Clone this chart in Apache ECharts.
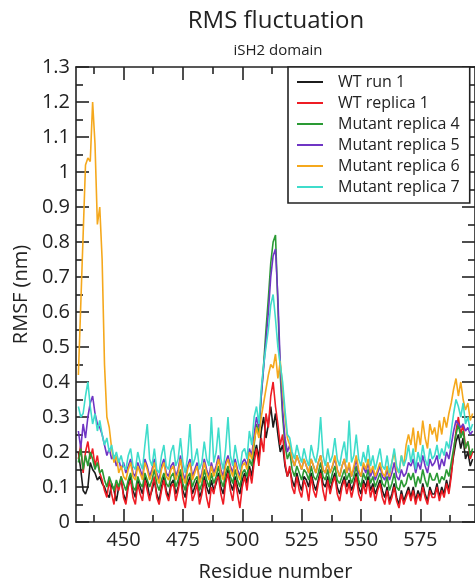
<!DOCTYPE html>
<html>
<head>
<meta charset="utf-8">
<script src="https://cdn.jsdelivr.net/npm/echarts@6/dist/echarts.min.js"></script>
<style>
html,body{margin:0;padding:0;background:#fff;}
#chart{width:475px;height:587px;}
</style>
</head>
<body>
<div id="chart"></div>
<script>
// Residues 431..597 (one value per residue)
const firstResidue = 431;
const lastResidue = 597;

const seriesNames = ["WT run 1", "WT replica 1", "Mutant replica 4", "Mutant replica 5", "Mutant replica 6", "Mutant replica 7"];
const seriesColors = ["#1c1c1c", "#ee1c24", "#2a9a34", "#6f35c4", "#f5a81c", "#3fdccb"];

const xMajorTicks = [450, 475, 500, 525, 550, 575];
const xMinorTicks = [437.5, 462.5, 487.5, 512.5, 537.5, 562.5, 587.5];

const wtRun1 = [
0.20,0.15,0.09,0.08,0.10,0.17,0.15,0.14,0.12,0.13,
0.11,0.10,0.08,0.07,0.11,0.09,0.06,0.10,0.12,0.08,
0.06,0.11,0.13,0.09,0.07,0.12,0.10,0.08,0.13,0.11,
0.07,0.09,0.12,0.08,0.06,0.10,0.13,0.09,0.07,0.11,
0.12,0.08,0.10,0.14,0.09,0.07,0.11,0.13,0.08,0.10,
0.12,0.07,0.09,0.13,0.10,0.08,0.12,0.09,0.11,0.14,
0.10,0.08,0.12,0.15,0.11,0.09,0.13,0.10,0.08,0.12,
0.14,0.11,0.16,0.13,0.19,0.22,0.18,0.26,0.30,0.24,
0.28,0.33,0.27,0.31,0.25,0.20,0.22,0.16,0.13,0.15,
0.12,0.10,0.14,0.11,0.09,0.13,0.12,0.10,0.14,0.11,
0.09,0.12,0.15,0.11,0.10,0.13,0.09,0.12,0.14,0.10,
0.08,0.11,0.13,0.10,0.12,0.09,0.11,0.14,0.10,0.08,
0.12,0.10,0.13,0.09,0.11,0.08,0.10,0.12,0.09,0.07,
0.10,0.06,0.08,0.11,0.07,0.05,0.09,0.06,0.08,0.10,
0.07,0.10,0.06,0.09,0.07,0.11,0.08,0.06,0.10,0.08,
0.08,0.11,0.07,0.10,0.08,0.12,0.09,0.14,0.19,0.23,
0.25,0.21,0.24,0.18,0.20,0.16,0.18];

const wtReplica1 = [
0.18,0.22,0.14,0.20,0.23,0.18,0.21,0.16,0.19,0.14,
0.12,0.09,0.07,0.12,0.08,0.05,0.11,0.09,0.13,0.07,
0.05,0.10,0.12,0.07,0.05,0.11,0.08,0.06,0.12,0.09,
0.06,0.10,0.13,0.07,0.05,0.09,0.12,0.08,0.06,0.10,
0.11,0.06,0.09,0.13,0.07,0.04,0.10,0.12,0.06,0.08,
0.11,0.05,0.08,0.12,0.07,0.04,0.10,0.08,0.12,0.13,
0.08,0.05,0.11,0.14,0.09,0.06,0.12,0.08,0.04,0.10,
0.13,0.09,0.15,0.11,0.17,0.21,0.16,0.24,0.20,0.31,
0.27,0.36,0.40,0.33,0.28,0.22,0.25,0.17,0.13,0.16,
0.10,0.08,0.13,0.09,0.07,0.12,0.10,0.06,0.13,0.09,
0.07,0.11,0.14,0.09,0.06,0.12,0.08,0.11,0.13,0.08,
0.06,0.10,0.12,0.08,0.11,0.07,0.10,0.13,0.08,0.06,
0.11,0.08,0.12,0.07,0.10,0.06,0.09,0.11,0.07,0.05,
0.09,0.05,0.07,0.10,0.06,0.04,0.08,0.05,0.07,0.09,
0.06,0.09,0.05,0.08,0.06,0.10,0.07,0.05,0.09,0.07,
0.07,0.10,0.06,0.09,0.07,0.11,0.08,0.13,0.20,0.26,
0.30,0.25,0.28,0.21,0.23,0.18,0.20];

const mutReplica4 = [
0.17,0.21,0.15,0.19,0.16,0.20,0.18,0.15,0.17,0.14,
0.15,0.12,0.10,0.13,0.11,0.09,0.12,0.10,0.13,0.11,
0.09,0.12,0.14,0.10,0.09,0.13,0.11,0.10,0.14,0.12,
0.10,0.12,0.15,0.11,0.09,0.12,0.14,0.11,0.10,0.13,
0.14,0.10,0.12,0.15,0.11,0.09,0.13,0.14,0.10,0.12,
0.13,0.09,0.11,0.15,0.12,0.10,0.14,0.11,0.13,0.16,
0.12,0.10,0.14,0.16,0.13,0.11,0.15,0.12,0.10,0.14,
0.15,0.13,0.18,0.16,0.22,0.28,0.25,0.36,0.45,0.55,
0.64,0.74,0.80,0.82,0.62,0.42,0.30,0.22,0.18,0.20,
0.15,0.13,0.16,0.14,0.12,0.15,0.14,0.12,0.16,0.13,
0.12,0.14,0.17,0.13,0.12,0.15,0.11,0.14,0.16,0.12,
0.11,0.13,0.15,0.12,0.14,0.11,0.13,0.16,0.12,0.10,
0.14,0.12,0.15,0.11,0.13,0.10,0.12,0.14,0.11,0.10,
0.13,0.09,0.11,0.14,0.10,0.09,0.12,0.10,0.11,0.14,
0.12,0.14,0.10,0.13,0.11,0.15,0.12,0.10,0.14,0.12,
0.12,0.14,0.11,0.13,0.12,0.15,0.13,0.17,0.21,0.25,
0.28,0.24,0.26,0.21,0.23,0.19,0.21];

const mutReplica5 = [
0.26,0.21,0.28,0.24,0.30,0.34,0.36,0.31,0.28,0.27,
0.25,0.22,0.19,0.21,0.18,0.19,0.16,0.18,0.15,0.17,
0.14,0.16,0.18,0.14,0.13,0.17,0.15,0.13,0.18,0.16,
0.13,0.15,0.18,0.14,0.12,0.16,0.18,0.14,0.13,0.16,
0.17,0.13,0.15,0.19,0.14,0.12,0.16,0.18,0.13,0.15,
0.17,0.12,0.14,0.18,0.15,0.13,0.17,0.14,0.16,0.19,
0.15,0.13,0.17,0.19,0.16,0.14,0.18,0.15,0.13,0.17,
0.18,0.16,0.21,0.19,0.25,0.30,0.27,0.36,0.44,0.52,
0.60,0.70,0.76,0.78,0.64,0.45,0.32,0.24,0.20,0.22,
0.18,0.16,0.19,0.17,0.15,0.18,0.16,0.14,0.18,0.16,
0.14,0.17,0.19,0.15,0.14,0.17,0.14,0.16,0.18,0.15,
0.13,0.16,0.18,0.14,0.16,0.13,0.15,0.18,0.14,0.13,
0.16,0.14,0.17,0.13,0.15,0.12,0.14,0.16,0.13,0.12,
0.15,0.12,0.14,0.17,0.13,0.12,0.15,0.13,0.14,0.17,
0.16,0.18,0.14,0.17,0.15,0.19,0.16,0.14,0.18,0.16,
0.17,0.19,0.15,0.18,0.16,0.20,0.18,0.22,0.26,0.29,
0.28,0.27,0.28,0.26,0.27,0.25,0.26];

const mutReplica6 = [
0.42,0.62,0.82,1.02,1.04,1.03,1.20,1.08,0.85,0.90,
0.75,0.45,0.30,0.27,0.21,0.17,0.19,0.14,0.16,0.13,
0.12,0.15,0.17,0.13,0.12,0.16,0.14,0.12,0.17,0.15,
0.12,0.14,0.17,0.13,0.11,0.15,0.17,0.13,0.12,0.15,
0.16,0.12,0.14,0.18,0.13,0.11,0.15,0.17,0.12,0.14,
0.16,0.11,0.13,0.17,0.14,0.12,0.16,0.13,0.15,0.18,
0.14,0.12,0.16,0.18,0.15,0.13,0.17,0.14,0.12,0.16,
0.17,0.15,0.20,0.18,0.23,0.27,0.24,0.30,0.34,0.38,
0.42,0.45,0.44,0.48,0.41,0.46,0.38,0.30,0.24,0.22,
0.18,0.16,0.19,0.17,0.15,0.18,0.16,0.14,0.18,0.16,
0.14,0.17,0.19,0.15,0.14,0.17,0.14,0.16,0.19,0.15,
0.13,0.16,0.18,0.14,0.17,0.13,0.16,0.19,0.15,0.13,
0.17,0.15,0.18,0.14,0.16,0.13,0.15,0.17,0.14,0.13,
0.16,0.13,0.17,0.20,0.15,0.14,0.19,0.16,0.22,0.25,
0.22,0.27,0.20,0.26,0.22,0.29,0.24,0.21,0.28,0.25,
0.27,0.23,0.29,0.25,0.30,0.27,0.31,0.34,0.38,0.41,
0.36,0.40,0.35,0.32,0.34,0.29,0.31];

const mutReplica7 = [
0.33,0.30,0.31,0.36,0.40,0.33,0.28,0.31,0.26,0.29,
0.25,0.22,0.24,0.20,0.22,0.18,0.20,0.17,0.19,0.16,
0.15,0.19,0.21,0.16,0.15,0.20,0.17,0.15,0.22,0.28,
0.18,0.16,0.21,0.15,0.14,0.19,0.22,0.16,0.15,0.20,
0.22,0.16,0.18,0.24,0.17,0.14,0.19,0.28,0.16,0.18,
0.21,0.15,0.17,0.23,0.18,0.16,0.30,0.17,0.20,0.27,
0.18,0.15,0.21,0.30,0.19,0.16,0.22,0.18,0.15,0.20,
0.21,0.18,0.26,0.22,0.30,0.33,0.28,0.38,0.45,0.50,
0.55,0.62,0.65,0.58,0.50,0.45,0.40,0.32,0.25,0.24,
0.20,0.18,0.22,0.19,0.17,0.21,0.18,0.16,0.22,0.19,
0.17,0.21,0.30,0.19,0.16,0.21,0.17,0.19,0.24,0.18,
0.16,0.20,0.23,0.17,0.29,0.17,0.19,0.25,0.18,0.16,
0.20,0.17,0.22,0.16,0.19,0.15,0.18,0.21,0.16,0.15,
0.19,0.14,0.17,0.21,0.16,0.14,0.19,0.16,0.18,0.22,
0.17,0.21,0.15,0.20,0.17,0.22,0.18,0.16,0.21,0.18,
0.19,0.22,0.18,0.21,0.19,0.23,0.21,0.26,0.31,0.35,
0.33,0.30,0.34,0.28,0.30,0.26,0.28];

const allValues = [wtRun1, wtReplica1, mutReplica4, mutReplica5, mutReplica6, mutReplica7];

const residues = [];
for (let r = firstResidue; r <= lastResidue; r++) residues.push(r);

const FONT = "Open Sans";
const AX = "#222";

function pairs(vals) { return vals.map((v, i) => [residues[i], v]); }

const series = seriesNames.map((name, k) => ({
  name: name,
  type: "line",
  xAxisIndex: 0,
  yAxisIndex: 0,
  symbol: "none",
  showSymbol: false,
  data: pairs(allValues[k]),
  lineStyle: { color: seriesColors[k], width: 1.6 },
  itemStyle: { color: seriesColors[k] },
  z: 2 + k,
  silent: true
}));

function xAxisDef(pos, ticks, len, withLabels, showLine) {
  return {
    type: "value", position: pos, min: 430, max: 598,
    axisLine: { show: showLine, onZero: false, lineStyle: { color: AX, width: 1.6 } },
    axisTick: { show: true, inside: true, length: len, customValues: ticks, lineStyle: { color: AX, width: 1.6 } },
    axisLabel: withLabels ? { show: true, customValues: ticks, margin: 8, fontFamily: FONT, fontSize: 20, color: AX } : { show: false },
    splitLine: { show: false },
    name: withLabels ? "Residue number" : "",
    nameLocation: "middle", nameGap: 40,
    nameTextStyle: { fontFamily: FONT, fontSize: 20, color: AX }
  };
}

function yAxisDef(pos, withLabels) {
  return {
    type: "value", position: pos, min: 0, max: 1.3, interval: 0.1,
    axisLine: { show: true, onZero: false, lineStyle: { color: AX, width: 1.6 } },
    axisTick: { show: true, inside: true, length: 13, lineStyle: { color: AX, width: 1.6 } },
    minorTick: { show: true, splitNumber: 2, length: 7, lineStyle: { color: AX, width: 1.6 } },
    axisLabel: withLabels ? { show: true, margin: 6, fontFamily: FONT, fontSize: 20, color: AX } : { show: false },
    splitLine: { show: false },
    name: withLabels ? "RMSF (nm)" : "",
    nameLocation: "middle", nameGap: 44,
    nameTextStyle: { fontFamily: FONT, fontSize: 20, color: AX }
  };
}

const option = {
  animation: false,
  backgroundColor: "#fff",
  title: [
    { text: "RMS fluctuation", left: 271, top: 4, textAlign: "center",
      textStyle: { fontFamily: FONT, fontSize: 24, fontWeight: "normal", color: AX } },
    { text: "iSH2 domain", left: 273, top: 38, textAlign: "center",
      textStyle: { fontFamily: FONT, fontSize: 15, fontWeight: "normal", color: AX } }
  ],
  grid: { left: 76, right: -3, top: 67, bottom: 56, containLabel: false },
  xAxis: [
    xAxisDef("bottom", xMajorTicks, 13, true, true),
    xAxisDef("bottom", xMinorTicks, 7, false, false),
    xAxisDef("top", xMajorTicks, 13, false, true),
    xAxisDef("top", xMinorTicks, 7, false, false)
  ],
  yAxis: [ yAxisDef("left", true), yAxisDef("right", false) ],
  legend: {
    orient: "vertical", left: 288, top: 67,
    data: seriesNames.map((n, k) => ({ name: n, icon: "rect", itemStyle: { color: seriesColors[k] } })),
    itemWidth: 26, itemHeight: 2, itemGap: 5,
    padding: [7, 10, 8, 9],
    backgroundColor: "#fff", borderColor: "#222", borderWidth: 1.6, borderRadius: 0,
    textStyle: { fontFamily: FONT, fontSize: 16, color: AX, padding: [0, 0, 0, 10] },
    selectedMode: false, z: 10
  },
  series: series
};

const chart = echarts.init(document.getElementById("chart"), null, { renderer: "canvas" });
chart.setOption(option);
</script>
</body>
</html>
